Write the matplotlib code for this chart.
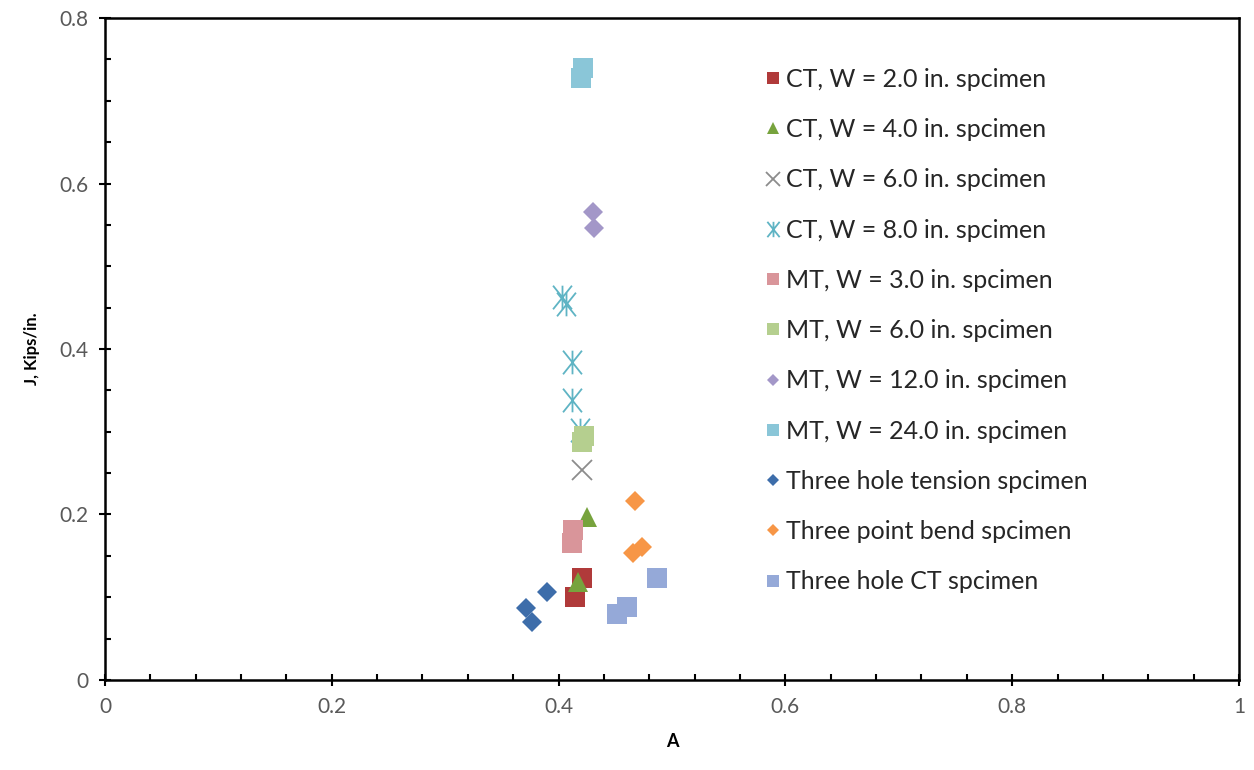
import matplotlib
matplotlib.use("Agg")
import matplotlib.pyplot as plt
from matplotlib.ticker import MultipleLocator
from matplotlib.path import Path

plt.rcParams['font.family'] = ['Lato', 'DejaVu Sans']

# data (A, J)
ct2_a = [0.4206, 0.4145]
ct2_j = [0.123, 0.100]
ct4_a = [0.425, 0.417]
ct4_j = [0.197, 0.119]
ct6_a = [0.4206]
ct6_j = [0.254]
ct8_a = [0.403, 0.4065, 0.412, 0.412, 0.419]
ct8_j = [0.463, 0.454, 0.384, 0.338, 0.302]
mt3_a = [0.413, 0.412]
mt3_j = [0.181, 0.166]
mt6_a = [0.422, 0.4206]
mt6_j = [0.295, 0.288]
mt12_a = [0.430, 0.431]
mt12_j = [0.566, 0.546]
mt24_a = [0.4215, 0.420]
mt24_j = [0.740, 0.727]
tht_a = [0.390, 0.371, 0.377]
tht_j = [0.106, 0.087, 0.070]
tpb_a = [0.467, 0.4735, 0.4656]
tpb_j = [0.216, 0.161, 0.153]
thct_a = [0.487, 0.460, 0.4515]
thct_j = [0.123, 0.088, 0.080]

# excel-style asterisk: an X with a vertical bar through it
star = Path([(-0.8, -1), (0.8, 1), (-0.8, 1), (0.8, -1), (0, -1), (0, 1)],
            [Path.MOVETO, Path.LINETO, Path.MOVETO, Path.LINETO, Path.MOVETO, Path.LINETO])

series = [
    ("CT, W = 2.0 in. spcimen", ct2_a, ct2_j, 's', '#B03A3A', 14),
    ("CT, W = 4.0 in. spcimen", ct4_a, ct4_j, '^', '#77A33D', 14),
    ("CT, W = 6.0 in. spcimen", ct6_a, ct6_j, 'x', '#8C8C8C', 15),
    ("CT, W = 8.0 in. spcimen", ct8_a, ct8_j, star, '#5FB4C4', 17),
    ("MT, W = 3.0 in. spcimen", mt3_a, mt3_j, 's', '#D9959A', 14),
    ("MT, W = 6.0 in. spcimen", mt6_a, mt6_j, 's', '#B5CF8F', 14),
    ("MT, W = 12.0 in. spcimen", mt12_a, mt12_j, 'D', '#A397C8', 10),
    ("MT, W = 24.0 in. spcimen", mt24_a, mt24_j, 's', '#8AC6D8', 14),
    ("Three hole tension spcimen", tht_a, tht_j, 'D', '#3D6DAA', 10),
    ("Three point bend spcimen", tpb_a, tpb_j, 'D', '#F79646', 10),
    ("Three hole CT spcimen", thct_a, thct_j, 's', '#95A9D8', 14),
]

fig = plt.figure(figsize=(12.54, 7.70), dpi=100)
ax = fig.add_axes([0.0837, 0.1169, 0.9043, 0.8597])

for label, a, j, m, c, ms in series:
    if isinstance(m, Path) or m == 'x':
        ax.plot(a, j, linestyle='none', marker=m, color=c, markersize=ms,
                markeredgewidth=1.3, label=label)
    else:
        ax.plot(a, j, linestyle='none', marker=m, color=c, markersize=ms,
                markeredgewidth=0, label=label)

ax.set_xlim(0, 1)
ax.set_ylim(0, 0.8)
ax.xaxis.set_minor_locator(MultipleLocator(0.04))
ax.yaxis.set_minor_locator(MultipleLocator(0.05))
ax.set_xticks([0, 0.2, 0.4, 0.6, 0.8, 1])
ax.set_xticklabels(['0', '0.2', '0.4', '0.6', '0.8', '1'])
ax.set_yticks([0, 0.2, 0.4, 0.6, 0.8])
ax.set_yticklabels(['0', '0.2', '0.4', '0.6', '0.8'])

ax.tick_params(which='major', direction='inout', length=8, width=1.5,
               labelsize=15, labelcolor='#595959', pad=8)
ax.tick_params(which='minor', direction='in', length=4, width=1.5)
ax.tick_params(top=False, right=False, which='both')
for s in ax.spines.values():
    s.set_linewidth(1.8)

ax.set_xlabel("A", fontsize=13, fontweight='bold', labelpad=12)
ax.set_ylabel("J, Kips/in.", fontsize=12, fontweight='bold', labelpad=14)

ax.legend(loc='upper left', bbox_to_anchor=(0.592, 0.941), bbox_transform=fig.transFigure,
          frameon=False, fontsize=18, markerscale=0.65, handlelength=0.65,
          handletextpad=0.2, labelspacing=1.09, labelcolor='#262626')

fig.savefig("out.png", dpi=100)
